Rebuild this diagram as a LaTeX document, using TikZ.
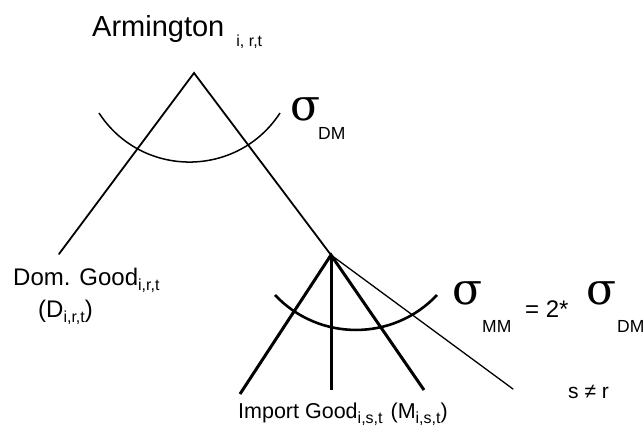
\documentclass[tikz,border=0pt]{standalone}
\usepackage{fontspec}
\setmainfont{Liberation Sans}
\newfontfamily\sigmafont{DejaVu Serif}
\usetikzlibrary{positioning}

\newcommand{\fs}[1]{\fontsize{#1}{#1}\selectfont}
\newcommand{\low}[2]{\raisebox{-#1}{\fs{16}#2}}

\begin{document}
\begin{tikzpicture}[x=1pt, y=-1pt,
    every node/.style={inner sep=0pt, anchor=base west},
    nestline/.style={line width=1.8pt, line cap=round},
    thinline/.style={line width=1.3pt, line cap=round},
    impline/.style={line width=3pt},
    elasarc/.style={line width=1.5pt},
    sig/.style={font=\sigmafont\fs{44}},
    subtxt/.style={font=\fs{17.5}}]
  \useasboundingbox (0,0) rectangle (644,427);

  % nesting points
  \coordinate (top) at (194,73);
  \coordinate (mid) at (331,255);
  \coordinate (domend) at (59,254);
  \coordinate (impL) at (240,394);
  \coordinate (impC) at (331,390);
  \coordinate (impR) at (424,390);
  \coordinate (other) at (513,389);

  % labels
  \node[font=\fs{29}] (arm) at (92,37) {Armington\hspace{12pt}\low{10pt}{i, r,t}};
  \node[font=\fs{24}] (dom) at (13,285) {Dom. Good\low{5pt}{i,r,t}};
  \node[font=\fs{24}] (domsym) at (38,317) {(D\low{5pt}{i,r,t})};
  \node[font=\fs{21.5}] (imp) at (238,418) {Import Good\low{5pt}{i,s,t}\hspace{8pt}(M\low{5pt}{i,s,t})};
  \node[font=\fs{21}] (neq) at (568,398) {s ≠ r};

  % elasticities
  \node[sig] (sdm) at (290,121) {σ};
  \node[subtxt] (sdmsub) at (318,140) {DM};
  \node[sig] (smm) at (452,304) {σ};
  \node[subtxt] (smmsub) at (482,332) {MM};
  \node[font=\fs{24}] (eq) at (525,317) {= 2*};
  \node[sig] (sdm2) at (586,304) {σ};
  \node[subtxt] (sdm2sub) at (617,332) {DM};

  % top nest
  \draw[nestline] (domend) -- (top) -- (mid);
  \draw[elasarc] (99,113) .. controls (141.6,178.4) and (237.4,178.4) .. (280,113);

  % import nest
  \draw[impline] (impL) -- (mid) -- (impR);
  \draw[impline] (mid) -- (impC);
  \draw[thinline] (mid) -- (other);
  \draw[line width=2.6pt] (275,295) .. controls (318.8,341.6) and (393.2,341.6) .. (437,295);
\end{tikzpicture}
\end{document}
